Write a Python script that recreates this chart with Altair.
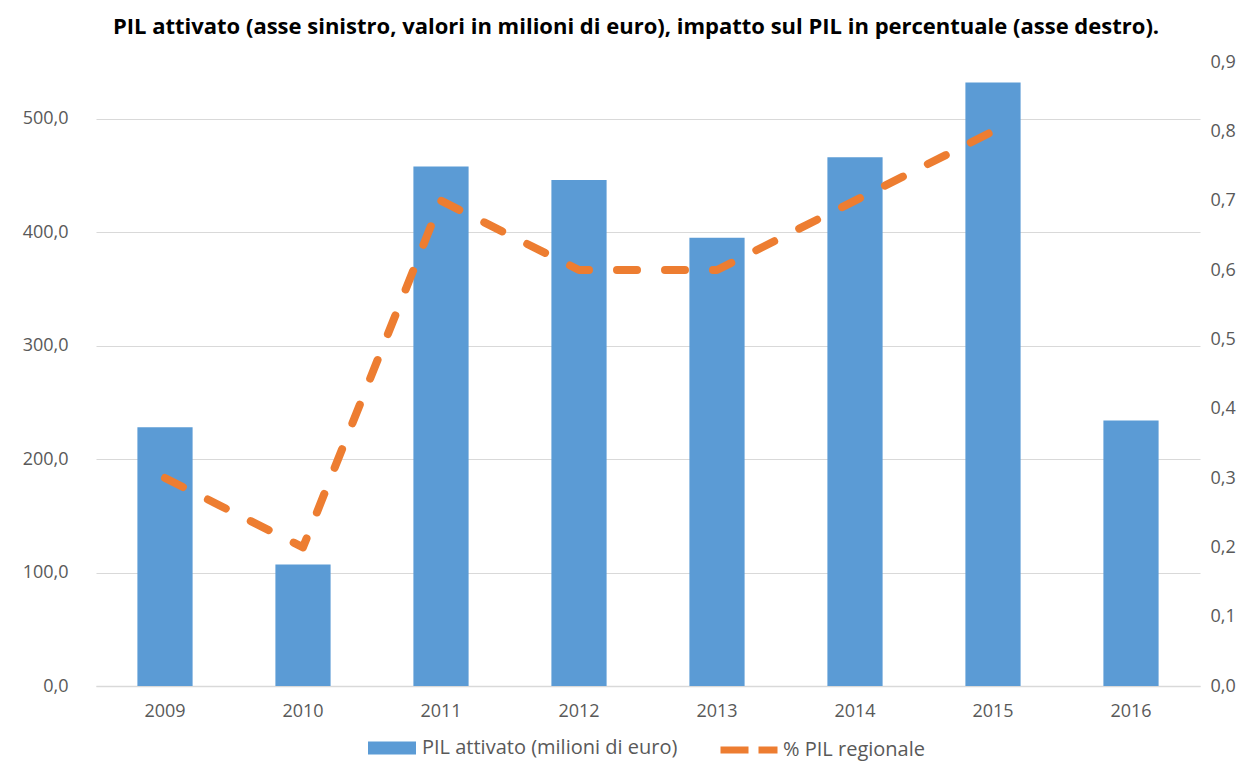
import altair as alt
import pandas as pd

years = ["2009", "2010", "2011", "2012", "2013", "2014", "2015", "2016"]
pil_attivato = [228, 107, 458, 446, 395, 466, 532, 234]
pct_pil = [0.3, 0.2, 0.7, 0.6, 0.6, 0.7, 0.8, None]

bar_name = "PIL attivato (milioni di euro)"
line_name = "% PIL regionale"

df = pd.DataFrame({
    "anno": years,
    "pil": pil_attivato,
    "pct": pct_pil,
    "s1": [bar_name] * len(years),
    "s2": [line_name] * len(years),
})

FONT = "Open Sans"
LABEL_COLOR = "#595959"
LS = 18
LEG = 20

x = alt.X(
    "anno:N",
    sort=years,
    scale=alt.Scale(paddingInner=0.6, paddingOuter=0.3),
    axis=alt.Axis(
        title=None, labelAngle=0, labelFontSize=LS, labelColor=LABEL_COLOR,
        labelFont=FONT, ticks=False, domainColor="#d9d9d9", domainWidth=1.5,
        labelPadding=16, grid=False,
    ),
)

bars = alt.Chart(df).mark_bar(color="#5B9BD5").encode(
    x=x,
    y=alt.Y(
        "pil:Q",
        scale=alt.Scale(domain=[0, 550], nice=False),
        axis=alt.Axis(
            title=None, values=[0, 100, 200, 300, 400, 500],
            labelExpr="replace(format(datum.value, '.1f'), '.', ',')",
            labelFontSize=LS, labelColor=LABEL_COLOR, labelFont=FONT,
            ticks=False, domain=False, grid=True, gridColor="#d9d9d9",
            gridWidth=1, labelPadding=28,
        ),
    ),
    color=alt.Color(
        "s1:N",
        scale=alt.Scale(domain=[bar_name], range=["#5B9BD5"]),
        legend=alt.Legend(
            title=None, orient="none", legendX=271, legendY=661,
            symbolType="M-1,-0.27H1V0.27H-1Z", symbolSize=2304,
            symbolOpacity=1, labelFontSize=LEG, labelColor=LABEL_COLOR,
            labelFont=FONT, labelOffset=5, labelLimit=500,
        ),
    ),
)

line = alt.Chart(df).mark_line(
    strokeWidth=8, strokeDash=[20, 28], strokeCap="round", strokeJoin="round",
).encode(
    x=x,
    y=alt.Y(
        "pct:Q",
        scale=alt.Scale(domain=[0, 0.9], nice=False),
        axis=alt.Axis(
            title=None, orient="right",
            values=[0, 0.1, 0.2, 0.3, 0.4, 0.5, 0.6, 0.7, 0.8, 0.9],
            labelExpr="replace(format(datum.value, '.1f'), '.', ',')",
            labelFontSize=LS, labelColor=LABEL_COLOR, labelFont=FONT,
            ticks=False, domain=False, grid=False, labelPadding=10,
        ),
    ),
    stroke=alt.Stroke(
        "s2:N",
        scale=alt.Scale(domain=[line_name], range=["#ED7D31"]),
        legend=alt.Legend(
            title=None, orient="none", legendX=621, legendY=656,
            symbolType="stroke", symbolSize=3249, symbolStrokeWidth=7,
            symbolDash=[28, 10], labelFontSize=LEG, labelColor=LABEL_COLOR,
            labelFont=FONT, labelOffset=2, labelLimit=500,
        ),
    ),
)

chart = alt.layer(bars, line).resolve_scale(y="independent").properties(
    width=1104,
    height=624,
    title=alt.Title(
        "PIL attivato (asse sinistro, valori in milioni di euro), impatto sul PIL in percentuale (asse destro).",
        fontSize=22, fontWeight="bold", font=FONT, color="#000000",
        anchor="middle", offset=14, dx=-12,
    ),
    autosize=alt.AutoSizeParams(type="none"),
    padding={"left": 88, "top": 54, "right": 48, "bottom": 77},
).configure_view(stroke=None).configure_legend(symbolStrokeColor=None)

chart.save("out.html", embed_options={"renderer": "svg", "actions": False})
